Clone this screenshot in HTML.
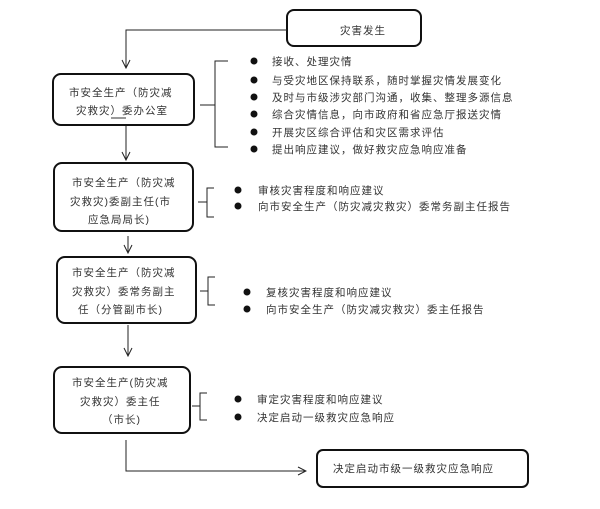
<!DOCTYPE html>
<html><head><meta charset="utf-8"><style>
html,body{margin:0;padding:0;background:#fff;}
svg text{font-family:"Liberation Sans","Noto Sans CJK SC",sans-serif;font-size:10.5px;fill:#333;letter-spacing:1px;}
</style></head><body>
<svg width="600" height="504" viewBox="0 0 600 504" xmlns="http://www.w3.org/2000/svg">
<defs><marker id="a" markerWidth="10" markerHeight="10" refX="9" refY="5" orient="auto" markerUnits="userSpaceOnUse"><path d="M1,1 L9,5 L1,9" fill="none" stroke="#222" stroke-width="1"/></marker></defs>
<g fill="none" stroke="#111" stroke-width="2">
<rect x="287" y="10" width="134" height="36" rx="7"/>
<rect x="53" y="74" width="141" height="51" rx="8"/>
<rect x="54" y="163" width="139" height="68" rx="8"/>
<rect x="57" y="257" width="139" height="66" rx="8"/>
<rect x="54" y="367" width="136" height="66" rx="8"/>
<rect x="317" y="450" width="211" height="37" rx="6"/>
</g>
<g fill="none" stroke="#222" stroke-width="1">
<polyline points="287,30 126,30 126,68" marker-end="url(#a)"/>
<line x1="126" y1="126" x2="126" y2="160" marker-end="url(#a)"/>
<line x1="128" y1="236" x2="128" y2="253" marker-end="url(#a)"/>
<line x1="128" y1="325" x2="128" y2="356" marker-end="url(#a)"/>
<polyline points="126,440 126,471 306,471" marker-end="url(#a)"/>
<path d="M228,61 H215 V105 H200 M215,105 V147 H228"/>
<path d="M214,188 H207 V202 H198 M207,202 V217 H214"/>
<path d="M215,277 H208 V291 H200 M208,291 V305 H215"/>
<path d="M207,393 H200 V406 H192 M200,406 V420 H207"/>
</g>
<g fill="#111">
<circle cx="254" cy="61" r="3.5"/><circle cx="254" cy="80" r="3.5"/><circle cx="254" cy="97" r="3.5"/><circle cx="254" cy="114" r="3.5"/><circle cx="254" cy="132" r="3.5"/><circle cx="254" cy="149" r="3.5"/>
<circle cx="238" cy="190" r="3.5"/><circle cx="238" cy="206" r="3.5"/>
<circle cx="247" cy="292" r="3.5"/><circle cx="247" cy="309" r="3.5"/>
<circle cx="238" cy="399" r="3.5"/><circle cx="238" cy="417" r="3.5"/>
</g>
<text x="340" y="34">灾害发生</text>
<text x="69" y="96">市安全生产（防灾减</text>
<text x="76" y="114">灾救灾）委办公室</text>
<line x1="111" y1="118" x2="126" y2="118" stroke="#333" stroke-width="1"/>
<text x="72" y="186">市安全生产（防灾减</text>
<text x="70" y="205">灾救灾)委副主任(市</text>
<text x="88" y="223">应急局局长)</text>
<text x="72" y="276">市安全生产（防灾减</text>
<text x="72" y="295">灾救灾）委常务副主</text>
<text x="78" y="313">任（分管副市长)</text>
<text x="72" y="386">市安全生产(防灾减</text>
<text x="80" y="405">灾救灾）委主任</text>
<text x="102" y="423">（市长)</text>
<text x="272" y="65">接收、处理灾情</text>
<text x="272" y="84">与受灾地区保持联系，随时掌握灾情发展变化</text>
<text x="272" y="101">及时与市级涉灾部门沟通，收集、整理多源信息</text>
<text x="272" y="118">综合灾情信息，向市政府和省应急厅报送灾情</text>
<text x="272" y="136">开展灾区综合评估和灾区需求评估</text>
<text x="272" y="153">提出响应建议，做好救灾应急响应准备</text>
<text x="258" y="194">审核灾害程度和响应建议</text>
<text x="258" y="210">向市安全生产（防灾减灾救灾）委常务副主任报告</text>
<text x="266" y="296">复核灾害程度和响应建议</text>
<text x="266" y="313">向市安全生产（防灾减灾救灾）委主任报告</text>
<text x="257" y="403">审定灾害程度和响应建议</text>
<text x="257" y="421">决定启动一级救灾应急响应</text>
<text x="333" y="472">决定启动市级一级救灾应急响应</text>
</svg>
</body></html>
